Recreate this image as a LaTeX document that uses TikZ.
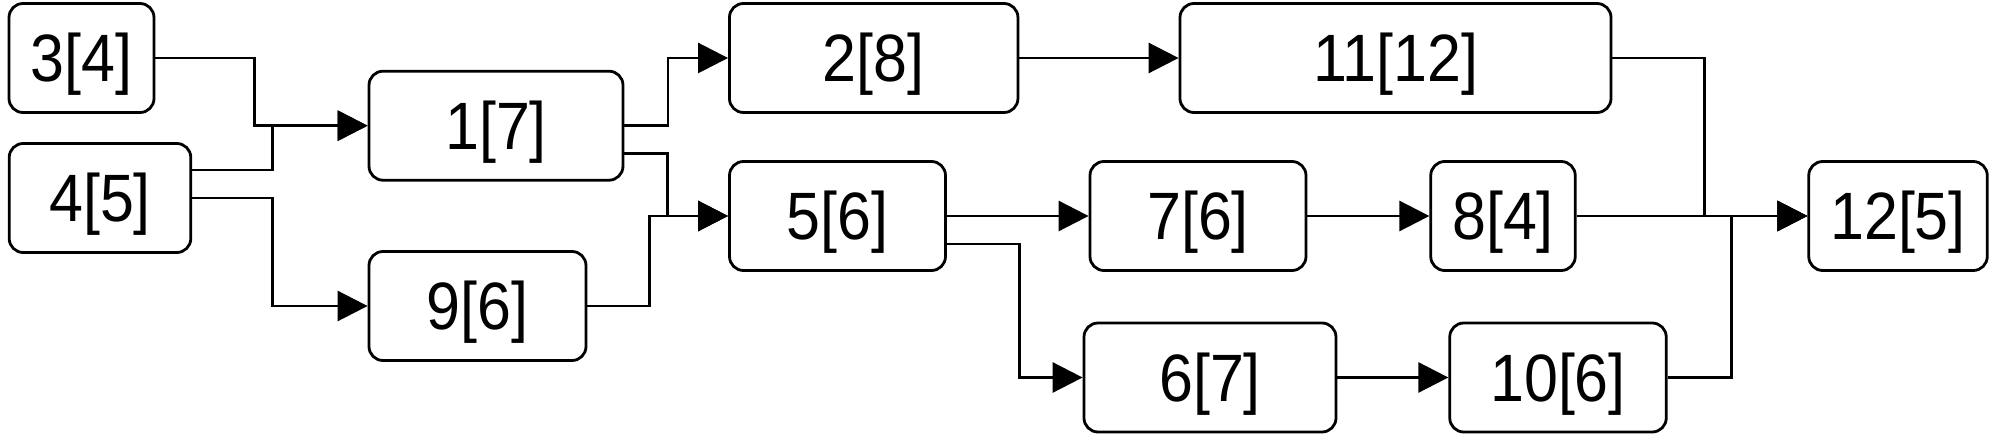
\documentclass[tikz,border=0pt]{standalone}
\usepackage{fontspec}
\setmainfont{Liberation Sans}[FakeStretch=0.91]
\usetikzlibrary{arrows.meta,calc}
\begin{document}
\begin{tikzpicture}[x=1pt,y=-1pt,
 box/.style={draw,line width=2.8pt,rounded corners=14pt,minimum height=109pt,inner sep=0pt,
   text height=48pt,text depth=0pt,font=\fontsize{67}{67}\selectfont,anchor=center},
 arr/.style={line width=2.8pt,-{Triangle[length=30pt,width=30pt]}}]
\useasboundingbox (0,0) rectangle (2000,435);
\node[box,minimum width=145pt] (n3) at (81.5,58) {3[4]};
\node[box,minimum width=181.6pt] (n4) at (100,198) {4[5]};
\node[box,minimum width=254pt] (n1) at (496,125.7) {1[7]};
\node[box,minimum width=217pt] (n9) at (477.5,306) {9[6]};
\node[box,minimum width=288.5pt] (n2) at (873.7,58) {2[8]};
\node[box,minimum width=431pt] (n11) at (1395.5,58) {11[12]};
\node[box,minimum width=216pt] (n5) at (837.5,216) {5[6]};
\node[box,minimum width=216pt] (n7) at (1198,216) {7[6]};
\node[box,minimum width=252pt] (n6) at (1210,377.5) {6[7]};
\node[box,minimum width=144.5pt] (n8) at (1503,216) {8[4]};
\node[box,minimum width=178.5pt] (n12) at (1898,216) {12[5]};
\node[box,minimum width=216.5pt] (n10) at (1558,377.5) {10[6]};
\coordinate (p4) at ($(n4.north east)!0.25!(n4.south east)$);
\coordinate (p1) at ($(n1.north east)!0.75!(n1.south east)$);
\coordinate (p5) at ($(n5.north east)!0.75!(n5.south east)$);
\draw[arr] (n3.east) -- ++(99,0) |- (n1.west);
\draw[arr] (p4) -- ++(80.4,0) |- (n1.west);
\draw[arr] (n4.east) -- ++(80.4,0) |- (n9.west);
\draw[arr] (n1.east) -- ++(43.5,0) |- (n2.west);
\draw[arr] (p1) -- ++(43,0) |- (n5.west);
\draw[arr] (n9.east) -- ++(62,0) |- (n5.west);
\draw[arr] (n2.east) -- (n11.west);
\draw[arr] (n5.east) -- (n7.west);
\draw[arr] (p5) -- ++(72.5,0) |- (n6.west);
\draw[arr] (n7.east) -- (n8.west);
\draw[arr] (n6.east) -- (n10.west);
\draw[arr] (n11.east) -- ++(92,0) |- (n12.west);
\draw[arr] (n8.east) -- (n12.west);
\draw[arr] (n10.east) -- ++(63.5,0) |- (n12.west);
\end{tikzpicture}
\end{document}
